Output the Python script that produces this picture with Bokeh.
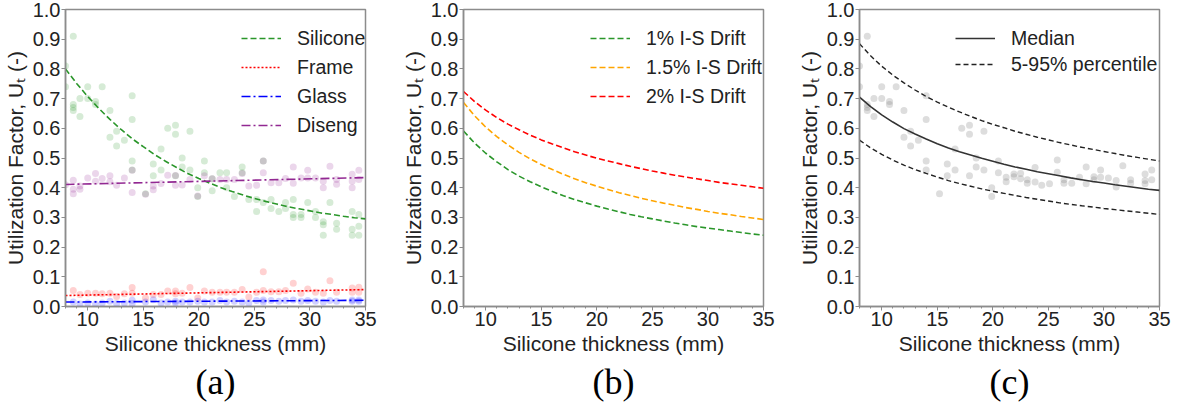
from bokeh.plotting import figure
from bokeh.layouts import row
from bokeh.models import (Range1d, FixedTicker, PrintfTickFormatter, Title,
                          Legend, LegendItem)
from bokeh.embed import file_html
from bokeh.resources import INLINE

# ---------------- data ----------------
thickness = [8, 9, 10, 11, 12, 13, 14, 15, 16, 17, 18, 19, 20, 21, 22, 23,
             24, 25, 26, 27, 28, 29, 30, 31, 32, 33, 34, 35]

# panel (a) fitted curves
fit_silicone = [0.800, 0.751, 0.707, 0.667, 0.630, 0.596, 0.565, 0.538, 0.512,
                0.489, 0.468, 0.448, 0.431, 0.415, 0.400, 0.387, 0.375, 0.364,
                0.354, 0.345, 0.336, 0.329, 0.322, 0.315, 0.310, 0.304, 0.299, 0.295]
fit_x_lin = [8, 35]
fit_frame = [0.037, 0.057]
fit_glass = [0.015, 0.021]
fit_diseng = [0.411, 0.434]

# panel (a) samples
xs_sil = [8.0, 8.0, 8.7, 8.7, 8.7, 8.7, 9.3, 9.3, 10.0, 10.0, 10.7, 10.7, 11.3,
          12.0, 12.0, 12.6, 12.6, 13.3, 14.0, 14.0, 14.0, 14.0, 15.2, 15.9, 15.9,
          16.6, 16.6, 17.2, 17.9, 17.9, 17.9, 18.5, 18.5, 19.2, 19.2, 19.9, 19.9,
          20.5, 20.5, 21.2, 21.2, 21.9, 22.5, 22.5, 23.2, 23.9, 23.9, 24.5, 25.2,
          25.2, 25.8, 25.8, 26.5, 26.5, 27.2, 27.8, 27.8, 28.5, 28.5, 28.5, 29.2,
          29.2, 29.8, 30.5, 30.5, 31.2, 31.2, 31.2, 31.8, 32.4, 32.4, 33.8, 33.8,
          33.8, 34.4, 34.4, 34.4]
ys_sil = [0.81, 0.74, 0.91, 0.68, 0.67, 0.66, 0.70, 0.64, 0.74, 0.70, 0.69, 0.68,
          0.74, 0.66, 0.57, 0.59, 0.54, 0.56, 0.71, 0.63, 0.49, 0.46, 0.38, 0.48,
          0.44, 0.53, 0.46, 0.60, 0.61, 0.58, 0.44, 0.50, 0.47, 0.59, 0.46, 0.40,
          0.37, 0.49, 0.45, 0.43, 0.39, 0.45, 0.45, 0.40, 0.37, 0.47, 0.45, 0.36,
          0.36, 0.32, 0.49, 0.35, 0.36, 0.33, 0.32, 0.35, 0.33, 0.36, 0.31, 0.30,
          0.31, 0.30, 0.35, 0.32, 0.30, 0.285, 0.275, 0.24, 0.35, 0.28, 0.26, 0.32,
          0.26, 0.24, 0.31, 0.27, 0.24]

xs_dis = [8.0, 8.7, 8.7, 8.7, 9.3, 9.3, 10.0, 10.7, 10.7, 11.3, 12.0, 12.0, 12.6,
          13.3, 14.0, 14.0, 15.2, 15.9, 15.9, 16.6, 17.2, 17.9, 17.9, 18.5, 19.2,
          19.9, 20.5, 21.2, 21.9, 22.5, 23.2, 23.9, 24.5, 25.2, 25.8, 25.8, 26.5,
          27.2, 27.8, 28.5, 28.5, 29.2, 29.8, 29.8, 30.5, 31.2, 31.2, 31.8, 32.4,
          32.4, 33.8, 33.8, 33.8, 34.4, 34.4]
ys_dis = [0.41, 0.425, 0.395, 0.38, 0.406, 0.395, 0.433, 0.448, 0.422, 0.431,
          0.44, 0.42, 0.408, 0.433, 0.459, 0.384, 0.378, 0.406, 0.393, 0.414,
          0.442, 0.441, 0.408, 0.409, 0.428, 0.372, 0.44, 0.43, 0.428, 0.428,
          0.428, 0.448, 0.406, 0.408, 0.49, 0.45, 0.417, 0.417, 0.431, 0.47,
          0.415, 0.433, 0.459, 0.433, 0.433, 0.422, 0.40, 0.472, 0.428, 0.412,
          0.445, 0.422, 0.40, 0.459, 0.428]

xs_frm = [8.7, 9.3, 10.0, 10.7, 11.3, 12.0, 12.6, 13.3, 14.0, 14.0, 15.2, 15.9,
          16.6, 17.2, 17.9, 17.9, 18.5, 19.2, 19.9, 20.5, 21.2, 21.9, 22.5, 23.2,
          23.9, 24.5, 25.2, 25.8, 25.8, 26.5, 27.2, 27.8, 28.5, 29.2, 29.8, 30.5,
          31.2, 31.8, 32.4, 33.8, 33.8, 34.4, 34.4]
ys_frm = [0.054, 0.040, 0.045, 0.045, 0.043, 0.045, 0.034, 0.043, 0.064, 0.045,
          0.029, 0.040, 0.040, 0.052, 0.052, 0.043, 0.045, 0.064, 0.029, 0.052,
          0.048, 0.048, 0.048, 0.048, 0.057, 0.032, 0.048, 0.117, 0.054, 0.050,
          0.050, 0.054, 0.078, 0.045, 0.059, 0.048, 0.045, 0.087, 0.048, 0.062,
          0.048, 0.065, 0.048]

xs_gls = [8.7, 9.3, 10.0, 10.7, 11.3, 12.0, 12.6, 13.3, 14.0, 14.0, 15.2, 15.9,
          16.6, 17.2, 17.9, 17.9, 18.5, 19.2, 19.9, 20.5, 21.2, 21.9, 22.5, 23.2,
          23.9, 24.5, 25.2, 25.8, 25.8, 26.5, 27.2, 27.8, 28.5, 29.2, 29.8, 30.5,
          31.2, 31.8, 32.4, 33.8, 33.8, 34.4, 34.4]
ys_gls = [0.015, 0.008, 0.012, 0.008, 0.012, 0.018, 0.010, 0.012, 0.021, 0.010,
          0.015, 0.023, 0.012, 0.015, 0.018, 0.012, 0.015, 0.015, 0.018, 0.015,
          0.015, 0.020, 0.015, 0.018, 0.015, 0.012, 0.020, 0.022, 0.015, 0.020,
          0.018, 0.020, 0.022, 0.018, 0.020, 0.018, 0.015, 0.020, 0.018, 0.022,
          0.018, 0.022, 0.018]

# panel (b) curves
drift_1 = [0.591, 0.550, 0.516, 0.487, 0.461, 0.439, 0.420, 0.403, 0.387, 0.373,
           0.360, 0.349, 0.338, 0.328, 0.319, 0.310, 0.302, 0.295, 0.288, 0.281,
           0.275, 0.269, 0.264, 0.259, 0.254, 0.249, 0.244, 0.240]
drift_15 = [0.687, 0.642, 0.604, 0.572, 0.544, 0.519, 0.497, 0.478, 0.461, 0.445,
            0.430, 0.417, 0.405, 0.394, 0.383, 0.374, 0.364, 0.356, 0.348, 0.341,
            0.333, 0.327, 0.320, 0.314, 0.309, 0.303, 0.298, 0.293]
drift_2 = [0.724, 0.690, 0.661, 0.636, 0.614, 0.595, 0.577, 0.561, 0.547, 0.534,
           0.521, 0.510, 0.499, 0.490, 0.481, 0.472, 0.464, 0.456, 0.449, 0.442,
           0.436, 0.430, 0.424, 0.418, 0.413, 0.408, 0.403, 0.398]

# panel (c)
xs_tot = [8.0, 8.0, 8.7, 8.7, 8.7, 8.7, 9.3, 9.3, 10.0, 10.0, 10.7, 10.7, 11.3,
          12.0, 12.0, 12.6, 12.6, 13.3, 14.0, 14.0, 14.0, 14.0, 15.2, 15.9, 15.9,
          16.6, 16.6, 17.2, 17.9, 17.9, 17.9, 18.5, 18.5, 19.2, 19.2, 19.9, 19.9,
          20.5, 20.5, 21.2, 21.2, 21.9, 21.9, 22.5, 22.5, 23.1, 23.1, 23.8, 23.8,
          24.4, 25.1, 25.8, 25.8, 26.4, 26.4, 27.1, 27.8, 28.4, 28.4, 29.1, 29.1,
          29.7, 29.7, 30.4, 31.1, 31.1, 31.7, 32.4, 32.4, 33.7, 33.7, 33.7, 34.3,
          34.3]
ys_tot = [0.81, 0.74, 0.91, 0.68, 0.67, 0.66, 0.70, 0.64, 0.74, 0.70, 0.69, 0.68,
          0.74, 0.66, 0.57, 0.59, 0.54, 0.56, 0.71, 0.63, 0.49, 0.46, 0.38, 0.48,
          0.44, 0.53, 0.46, 0.60, 0.61, 0.58, 0.44, 0.50, 0.47, 0.59, 0.46, 0.40,
          0.37, 0.49, 0.45, 0.435, 0.42, 0.446, 0.437, 0.448, 0.43, 0.427, 0.415,
          0.468, 0.419, 0.408, 0.413, 0.493, 0.452, 0.427, 0.415, 0.415, 0.435,
          0.47, 0.413, 0.437, 0.427, 0.46, 0.435, 0.433, 0.424, 0.402, 0.474,
          0.427, 0.415, 0.446, 0.424, 0.413, 0.46, 0.427]
median = [0.705, 0.673, 0.645, 0.621, 0.599, 0.581, 0.564, 0.548, 0.534, 0.521,
          0.510, 0.499, 0.489, 0.479, 0.470, 0.462, 0.454, 0.447, 0.440, 0.433,
          0.427, 0.421, 0.416, 0.410, 0.405, 0.400, 0.395, 0.391]
p95 = [0.885, 0.844, 0.809, 0.779, 0.753, 0.729, 0.707, 0.688, 0.671, 0.655,
       0.640, 0.626, 0.613, 0.602, 0.590, 0.580, 0.570, 0.561, 0.552, 0.544,
       0.536, 0.529, 0.522, 0.515, 0.508, 0.502, 0.496, 0.490]
p05 = [0.560, 0.534, 0.512, 0.493, 0.476, 0.461, 0.448, 0.436, 0.424, 0.414,
       0.405, 0.396, 0.388, 0.381, 0.374, 0.367, 0.361, 0.355, 0.349, 0.344,
       0.339, 0.335, 0.330, 0.326, 0.322, 0.318, 0.314, 0.310]

x_ticks = [10, 15, 20, 25, 30, 35]
x_minor = list(range(8, 36))
y_ticks = [0.0, 0.1, 0.2, 0.3, 0.4, 0.5, 0.6, 0.7, 0.8, 0.9, 1.0]

# ---------------- styling ----------------
SANS = "Liberation Sans"
SERIF = "Liberation Serif"
SPINE = "#8c8c8c"
TXT = "#222222"
GREEN = "#2a962a"
PURPLE = "#922892"
FIG_H = 404


def make_fig(panel, w, bl, br):
    p = figure(width=w, height=FIG_H,
               x_range=Range1d(8, 35), y_range=Range1d(0, 1),
               output_backend="svg", toolbar_location=None,
               min_border_left=bl, min_border_right=br,
               min_border_top=9, min_border_bottom=0)
    p.xgrid.visible = False
    p.ygrid.visible = False
    p.outline_line_color = SPINE
    p.outline_line_width = 1.5
    p.background_fill_color = "white"
    p.border_fill_color = "white"
    p.xaxis.ticker = FixedTicker(ticks=x_ticks, minor_ticks=x_minor)
    p.yaxis.ticker = FixedTicker(ticks=y_ticks)
    p.yaxis.formatter = PrintfTickFormatter(format="%.1f")
    for ax in (p.xaxis[0], p.yaxis[0]):
        ax.axis_line_color = SPINE
        ax.axis_line_width = 1.5
        ax.major_tick_line_color = SPINE
        ax.major_tick_out = 4
        ax.major_tick_in = 0
        ax.minor_tick_line_color = SPINE
        ax.minor_tick_out = 2
        ax.minor_tick_in = 0
        ax.major_label_text_font = SANS
        ax.major_label_text_font_size = "20px"
        ax.major_label_text_color = TXT
        ax.major_label_standoff = 1
        ax.axis_label_text_font = SANS
        ax.axis_label_text_font_size = "21px"
        ax.axis_label_text_font_style = "normal"
        ax.axis_label_text_color = TXT
        ax.axis_label_standoff = 3
    p.yaxis.minor_tick_line_color = None
    p.xaxis.axis_label = "Silicone thickness (mm)"
    p.yaxis.axis_label = "Utilization Factor, U\u209c (-)"
    p.add_layout(Title(text=panel, align="center", text_font=SERIF,
                       text_font_size="36px", text_font_style="normal",
                       text_color="black", standoff=5), "below")
    return p


def add_legend(p, items, x, y, spacing):
    lg = Legend(items=[LegendItem(label=l, renderers=r) for l, r in items],
                location=(x, y), border_line_alpha=0, background_fill_alpha=0,
                label_text_font=SANS, label_text_font_size="19.5px",
                label_text_color=TXT, glyph_width=40, glyph_height=24,
                label_height=24, spacing=spacing, padding=6, margin=0,
                label_standoff=16)
    p.add_layout(lg)


# ---------------- panel (a) ----------------
pa = make_fig("(a)", 398, 63, 33)
pa.scatter(xs_sil, ys_sil, size=7, color="green", alpha=0.16, line_color=None)
pa.scatter(xs_dis, ys_dis, size=7, color="purple", alpha=0.16, line_color=None)
pa.scatter(xs_frm, ys_frm, size=7, color="red", alpha=0.18, line_color=None)
pa.scatter(xs_gls, ys_gls, size=7, color="blue", alpha=0.18, line_color=None)
ra1 = pa.line(thickness, fit_silicone, line_color=GREEN, line_width=1.6, line_dash="6 3")
ra2 = pa.line(fit_x_lin, fit_frame, line_color="red", line_width=1.6, line_dash="2 2")
ra3 = pa.line(fit_x_lin, fit_glass, line_color="blue", line_width=1.6, line_dash="9 3 2 3")
ra4 = pa.line(fit_x_lin, fit_diseng, line_color=PURPLE, line_width=1.6, line_dash="9 3 2 3")
add_legend(pa, [("Silicone", [ra1]), ("Frame", [ra2]), ("Glass", [ra3]),
                ("Diseng", [ra4])], 170, 163, 5)

# ---------------- panel (b) ----------------
pb = make_fig("(b)", 396, 63, 31)
rb1 = pb.line(thickness, drift_1, line_color=GREEN, line_width=1.6, line_dash="6 3")
rb2 = pb.line(thickness, drift_15, line_color="#ffa500", line_width=1.6, line_dash="6 3")
rb3 = pb.line(thickness, drift_2, line_color="red", line_width=1.6, line_dash="6 3")
add_legend(pb, [("1% I-S Drift", [rb1]), ("1.5% I-S Drift", [rb2]),
                ("2% I-S Drift", [rb3])], 121, 192, 5)

# ---------------- panel (c) ----------------
pc = make_fig("(c)", 377, 63, 12)
pc.scatter(xs_tot, ys_tot, size=7, color="gray", alpha=0.27, line_color=None)
rc1 = pc.line(thickness, median, line_color="#333333", line_width=1.6)
rc2 = pc.line(thickness, p95, line_color="#222222", line_width=1.4, line_dash="5 3")
pc.line(thickness, p05, line_color="#222222", line_width=1.4, line_dash="5 3")
add_legend(pc, [("Median", [rc1]), ("5-95% percentile", [rc2])], 90, 224, 2)

layout = row(pa, pb, pc)
open("out.html", "w").write(file_html(layout, INLINE))
